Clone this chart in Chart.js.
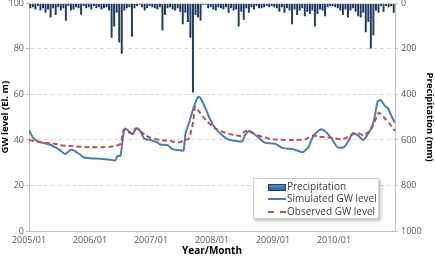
<!DOCTYPE html>
<html>
<head>
<meta charset="utf-8">
<script src="https://cdn.jsdelivr.net/npm/chart.js@4"></script>
<style>
  html, body { margin: 0; padding: 0; background: #fff; overflow: hidden; }
  #wrap { position: relative; width: 435px; height: 257px; overflow: hidden; }
  #gwChart { position: absolute; left: 0; top: -5px; }
  #legend {
    position: absolute; left: 253px; top: 178px; width: 124px; height: 39px;
    background: #fff; border: 1px solid #d0d0d0;
    box-shadow: 2px 2px 3px rgba(0,0,0,0.25);
    font-family: 'Open Sans', sans-serif; font-size: 10px; color: #404040;
  }
  #legend .row { position: absolute; left: 14px; height: 12px; line-height: 12px; white-space: nowrap; }
  #legend .sym { display: inline-block; width: 18px; vertical-align: middle; margin-right: 1px; }
</style>
</head>
<body>
<div id="wrap">
  <canvas id="gwChart" width="435" height="262"></canvas>
  <div id="legend">
    <div class="row" style="top:1px"><span class="sym" style="height:5px;background:linear-gradient(#5a8ad0,#2f5f9e);border:1px solid #1f3f6e;width:16px"></span>Precipitation</div>
    <div class="row" style="top:13px"><span class="sym" style="height:0;border-top:2px solid #4a7ebb"></span>Simulated GW level</div>
    <div class="row" style="top:26px"><span class="sym" style="height:0;border-top:2px dashed #c0504d"></span>Observed GW level</div>
  </div>
</div>
<script>
// ── Data ──────────────────────────────────────────────────────
const xTickLabels = ['2005/01', '2006/01', '2007/01', '2008/01', '2009/01', '2010/01'];

// precipitation (mm), two values per month from 2005/01
const precip = [
  20, 15, 25, 10, 30, 20, 40, 25, 60, 20, 50, 15, 30, 20, 75, 10, 30, 25, 15, 20, 48, 10, 20, 15,
  25, 10, 20, 15, 25, 20, 15, 30, 150, 100, 40, 170, 220, 30, 20, 15, 145, 20, 10, 5, 15, 30, 20, 10,
  15, 20, 25, 15, 118, 50, 20, 15, 25, 30, 20, 35, 90, 40, 80, 150, 390, 50, 60, 75, 5, 5, 20, 15,
  25, 30, 15, 20, 25, 15, 40, 20, 30, 25, 100, 35, 70, 20, 40, 15, 25, 10, 20, 20, 15, 10, 15, 10,
  15, 20, 35, 15, 40, 20, 30, 90, 25, 50, 30, 20, 55, 35, 45, 30, 100, 45, 25, 30, 55, 15, 10, 10,
  15, 20, 30, 50, 25, 60, 30, 20, 35, 55, 60, 40, 125, 80, 197, 140, 30, 40, 10, 35, 10, 15, 10, 40,
];

// simulated GW level: month offset from 2005/01, level (El. m)
const simMonths = [0, 0.8, 1.6, 3.2, 4.1, 5.1, 6.1, 7.1, 8.1, 8.7, 10.1, 10.7, 12, 14, 16, 17, 17.4, 18,
  18.3, 18.7, 18.9, 19.9, 20.5, 20.9, 21.5, 22.1, 22.7, 23.9, 25.2, 25.8, 27.2, 28.2, 29.8, 30.4, 30.8,
  31.4, 31.8, 32.5, 33.3, 33.7, 34.7, 35.7, 36.7, 38.7, 39.6, 41.6, 42, 42.6, 43.4, 45.2, 46.2, 47.5,
  48.5, 49.9, 51.9, 53.8, 54.4, 55, 56, 57.4, 58.4, 59.4, 60.7, 61.9, 62.7, 63.7, 64.7, 65.7, 66.5,
  67.3, 67.9, 68.6, 69.2, 70, 70.6, 71.4, 72];
const simLevels = [44.3, 41, 39.5, 38.5, 38, 36.8, 35.5, 33.8, 35.5, 35.5, 33.5, 32.4, 32, 31.7, 31.3, 31, 33, 33,
  38, 44, 45, 43.5, 42.5, 45, 45, 43, 40.5, 40, 39, 38, 37.8, 36, 35.5, 35.3, 43,
  47, 50, 55, 59, 58.5, 54, 48.7, 45, 40.8, 40, 39.3, 39.5, 42.5, 44, 41, 39, 38.5,
  38.3, 36.4, 36, 34.6, 35.5, 37, 42, 44.7, 43.5, 41, 36.8, 36.8, 39, 43, 42, 40, 42,
  45, 49, 57, 57.5, 55, 54, 50, 47.5];

// observed GW level
const obsMonths = [0, 2.2, 4.1, 5.1, 6.1, 8.1, 12, 16, 17.6, 18.1, 18.5, 18.9, 19.9, 20.5, 21.1, 21.9,
  22.9, 23.9, 25.8, 27.8, 29.8, 30.4, 31.4, 31.9, 32.3, 32.7, 33.7, 35.1, 36.7, 38.3, 40.6, 41.6,
  42.6, 44, 46, 47.9, 51.5, 54.4, 55.8, 56.9, 59.8, 61.7, 63.7, 64.7, 65.9, 67.3, 68, 68.8, 69.8,
  70.8, 72];
const obsLevels = [40, 39, 38.5, 38.3, 37.7, 37.3, 36.8, 37, 37.8, 38.5, 44, 44.5, 43, 43, 45, 44,
  42, 41, 40, 39.5, 39, 40, 40.5, 44, 48, 54.5, 51.7, 48, 45, 43.4, 42, 41.8,
  44, 43, 41.3, 40.3, 40, 40.3, 42, 41.5, 40.8, 40.3, 42.5, 43, 42, 44.7, 48, 52, 50,
  47.5, 44];

// ── Chart Defaults ────────────────────────────────────────────
Chart.defaults.font.family = 'Open Sans';
Chart.defaults.color       = '#595959';

const tickFont  = { size: 9 };
const titleFont = { size: 9.5, weight: 'bold' };

new Chart(document.getElementById('gwChart'), {
  data: {
    datasets: [
      {
        type:            'line',
        label:           'Simulated GW level',
        data:            simMonths.map((m, i) => ({ x: m, y: simLevels[i] })),
        borderColor:     '#4a7ebb',
        borderWidth:     2,
        pointRadius:     0,
        tension:         0.2,
        yAxisID:         'y',
        order:           2,
      },
      {
        type:            'line',
        label:           'Observed GW level',
        data:            obsMonths.map((m, i) => ({ x: m, y: obsLevels[i] })),
        borderColor:     '#c0504d',
        borderWidth:     2,
        borderDash:      [5, 3],
        pointRadius:     0,
        tension:         0.2,
        yAxisID:         'y',
        order:           1,
      },
      {
        type:            'bar',
        label:           'Precipitation',
        data:            precip.map((v, i) => ({ x: i * 0.5 + 0.25, y: v })),
        backgroundColor: '#1f3a63',
        barThickness:    1.3,
        yAxisID:         'y2',
        order:           3,
      },
    ],
  },
  options: {
    responsive: false,
    animation:  false,
    plugins: {
      legend:  { display: false },
      tooltip: { enabled: false },
    },
    scales: {
      x: {
        type:   'linear',
        min:    0,
        max:    72,
        offset: false,
        ticks: {
          stepSize:    12,
          font:        tickFont,
          padding:     0,
          maxRotation: 0,
          callback:    (v) => xTickLabels[v / 12] || '',
        },
        grid:   { display: false, drawTicks: true, tickLength: 4 },
        border: { color: '#bfbfbf' },
        title:  { display: true, text: 'Year/Month', font: { size: 10, weight: 'bold' }, color: '#000', padding: { top: 0, bottom: 0 } },
        afterFit: (s) => { s.height = 26; },
      },
      y: {
        position: 'left',
        min:      0,
        max:      100,
        ticks:    { stepSize: 20, font: tickFont, padding: 2 },
        grid: {
          color:      (c) => (c.tick.value === 0 || c.tick.value === 100) ? 'rgba(0,0,0,0)' : '#d9d9d9',
          tickColor:  '#bfbfbf',
          tickLength: 3,
          lineWidth:  1,
        },
        border: { color: '#bfbfbf', dash: [4, 3] },
        title:  { display: true, text: 'GW level (El. m)', font: titleFont, color: '#000', padding: 0 },
        afterFit: (s) => { s.width = 29; },
      },
      y2: {
        position: 'right',
        reverse:  true,
        min:      0,
        max:      1000,
        ticks:    { stepSize: 200, font: tickFont, padding: 3, callback: (v) => String(v) },
        grid:     { drawOnChartArea: false, tickColor: '#bfbfbf', tickLength: 3 },
        border:   { color: '#bfbfbf' },
        title:    { display: true, text: 'Precipitation (mm)', font: titleFont, color: '#000', padding: 0 },
        afterFit: (s) => { s.width = 40; },
      },
    },
  },
});
</script>
</body>
</html>
